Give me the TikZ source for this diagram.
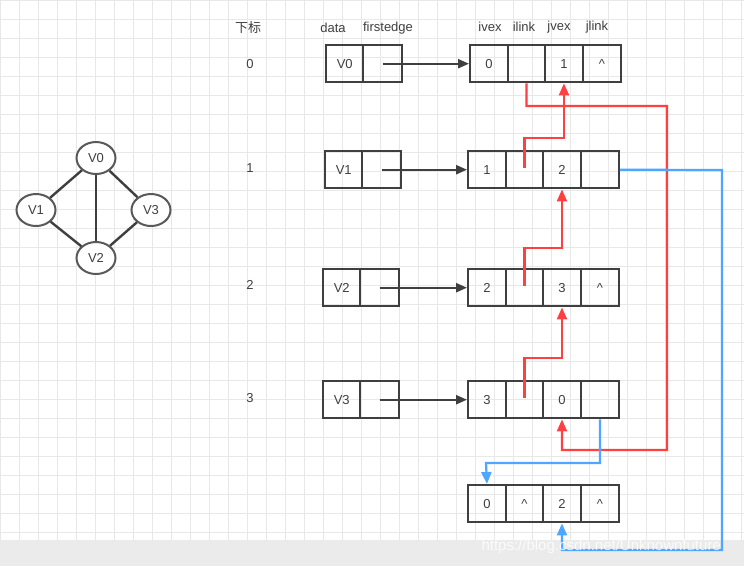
\documentclass[tikz,border=0pt]{standalone}
\usepackage{fontspec}
\setmainfont{Liberation Sans}
\newfontfamily\cjk{Noto Sans CJK SC}
\usetikzlibrary{arrows.meta,shapes.geometric}
\definecolor{lred}{HTML}{FF4040}
\definecolor{lblue}{HTML}{4DA6FF}
\definecolor{dk}{HTML}{3F3F3F}
\begin{document}
\begin{tikzpicture}[x=1pt,y=-1pt,
  every node/.style={font=\fontsize{13}{15}\selectfont,text=dk},
  cell/.style={draw=dk,line width=2.4pt,minimum width=37.5pt,minimum height=37pt,inner sep=0pt,anchor=north west},
  vtx/.style={draw=black!65,line width=2pt,ellipse,minimum width=39pt,minimum height=32pt,inner sep=0pt,fill=white},
  gedge/.style={draw=dk,line width=2.4pt},
  ptr/.style={draw=dk,line width=2.2pt,-{Triangle[length=11pt,width=9pt]}},
  red/.style={draw=lred,line width=2.2pt,-{Triangle[length=12pt,width=10pt]}},
  blue/.style={draw=lblue,line width=2.2pt,-{Triangle[length=12pt,width=10pt]}},
  lbl/.style={anchor=center}]
\useasboundingbox (0,0) rectangle (744,566);
\fill[white] (0,0) rectangle (744,566);
\foreach \x in {0,19,...,744} \draw[black!9,line width=1pt] (\x,0) -- (\x,566);
\foreach \y in {0,19,...,566} \draw[black!9,line width=1pt] (0,\y) -- (744,\y);
\fill[black!8] (0,540) rectangle (744,566);
% graph
\node[vtx] (V0) at (96,158) {V0};
\node[vtx] (V1) at (36,210) {V1};
\node[vtx] (V3) at (151,210) {V3};
\node[vtx] (V2) at (96,258) {V2};
\draw[gedge] (V0) -- (V1);
\draw[gedge] (V0) -- (V3);
\draw[gedge] (V0) -- (V2);
\draw[gedge] (V1) -- (V2);
\draw[gedge] (V3) -- (V2);
% headers
\node[lbl] (h0) at (248,28) {\cjk 下标};
\node[lbl] (h1) at (333,28) {data};
\node[lbl] (h2) at (388,28) {firstedge};
\node[lbl] (h3) at (490,27) {ivex};
\node[lbl] (h4) at (524,27) {ilink};
\node[lbl] (h5) at (559,27) {jvex};
\node[lbl] (h6) at (597,27) {jlink};
\node[lbl] (i0) at (250,64) {0};
\node[lbl] (i1) at (250,168) {1};
\node[lbl] (i2) at (250,285) {2};
\node[lbl] (i3) at (250,398) {3};
% vertex table
\node[cell,minimum width=37pt] (d0) at (325,44) {V0};
\node[cell,minimum width=39pt] (f0) at (362,44) {};
\node[cell,minimum width=37pt] (d1) at (324,150) {V1};
\node[cell,minimum width=39pt] (f1) at (361,150) {};
\node[cell,minimum width=37pt] (d2) at (322,268) {V2};
\node[cell,minimum width=39pt] (f2) at (359,268) {};
\node[cell,minimum width=37pt] (d3) at (322,380) {V3};
\node[cell,minimum width=39pt] (f3) at (359,380) {};
% edge table
\newcommand{\erow}[6]{%
  \node[cell] (#1a) at (#2,#3) {#4};
  \node[cell] (#1b) at (#2+37.5,#3) {#5};
  \node[cell] (#1c) at (#2+75,#3) {#6};}
\erow{e0}{469}{44}{0}{}{1}\node[cell] (e0d) at (582,44) {\^{}};
\erow{e1}{467}{150}{1}{}{2}\node[cell] (e1d) at (580,150) {};
\erow{e2}{467}{268}{2}{}{3}\node[cell] (e2d) at (580,268) {\^{}};
\erow{e3}{467}{380}{3}{}{0}\node[cell] (e3d) at (580,380) {};
\erow{e4}{467}{484}{0}{\^{}}{2}\node[cell] (e4d) at (580,484) {\^{}};
% first edge pointers
\draw[ptr] (f0.center) -- (e0a.west);
\draw[ptr] (f1.center) -- (e1a.west);
\draw[ptr] (f2.center) -- (e2a.west);
\draw[ptr] (f3.center) -- (e3a.west);
% ilink (red)
\draw[red] ([yshift=2pt]e1b.center) -- ++(0,-30) -| (e0c.south);
\draw[red] ([yshift=2pt]e2b.center) -- ++(0,-38) -| (e1c.south);
\draw[red] ([yshift=2pt]e3b.center) -- ++(0,-40) -| (e2c.south);
\draw[red] (e0b.south) |- (667,106) |- (562,450) -- (e3c.south);
% jlink (blue)
\draw[blue] (e1d.east) -- (722,170) |- (562,550) -- (e4c.south);
\draw[blue] (e3d.south) |- (486,463) -- (e4a.north);
\node[text=white,opacity=0.8,font=\fontsize{15}{17}\selectfont,anchor=west] (wm) at (478,547) {https://blog.csdn.net/Unknownfuture};
\end{tikzpicture}
\end{document}
